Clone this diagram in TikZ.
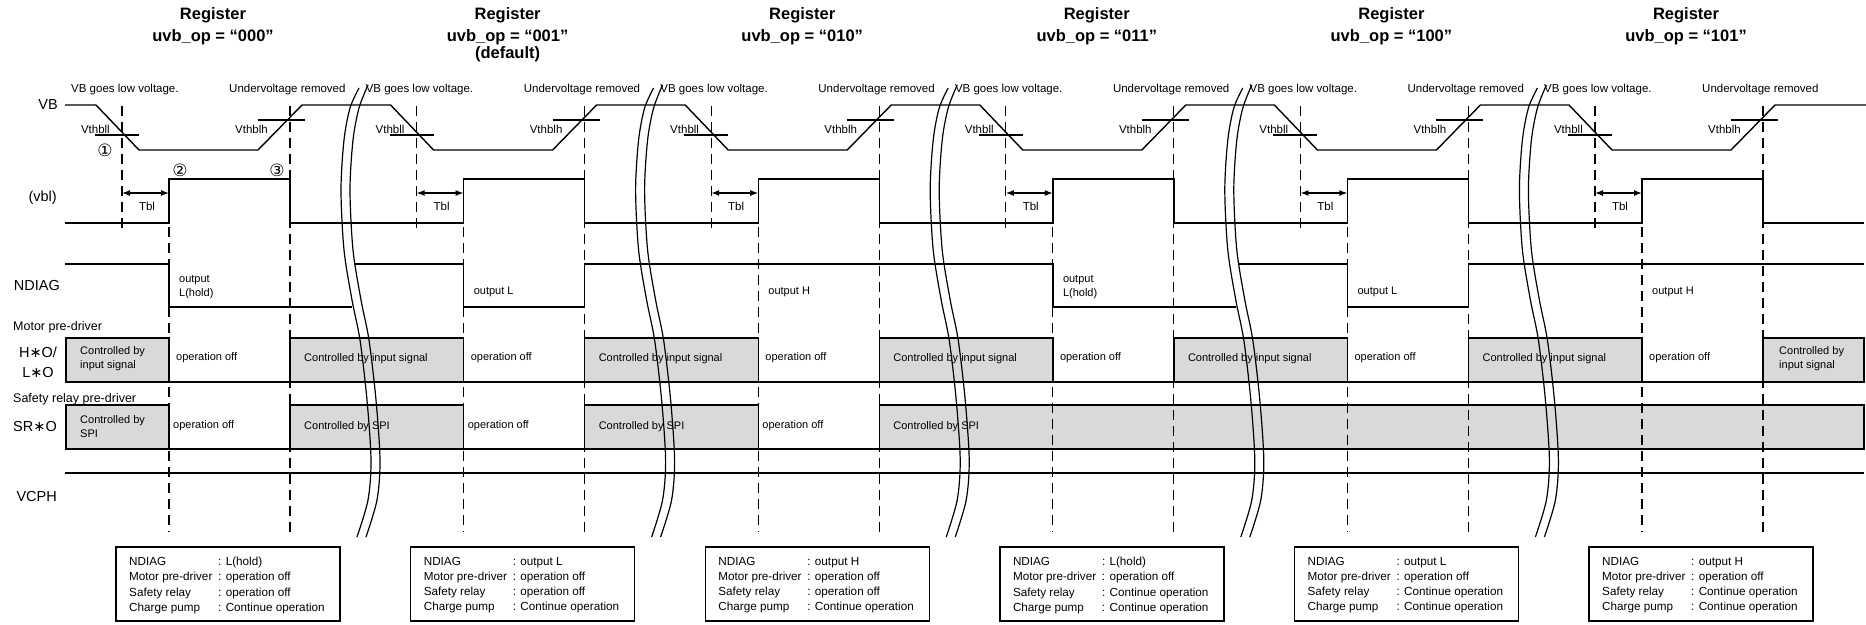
\documentclass[tikz,border=0pt]{standalone}
\usepackage{fontspec}
\setmainfont{Liberation Sans}
\newfontfamily\circfont{DejaVu Sans}
\usetikzlibrary{arrows.meta,positioning}

\tikzstyle{wave}  = [line width=1.4pt]
\tikzstyle{guide} = [line width=1.3pt, dash pattern=on 10pt off 6pt]
\tikzstyle{ctrl}  = [draw, line width=1.4pt, fill=black!15]
\tikzstyle{brk}   = [line width=1.2pt]
\tikzstyle{dim}   = [line width=1.3pt, {Latex[length=8pt,width=6pt]}-{Latex[length=8pt,width=6pt]}]
\newcommand{\pinstar}{{\circfont ∗}}

\begin{document}
\begin{tikzpicture}[x=1pt,y=-1pt,
  title/.style={font=\fontsize{16.5}{22}\selectfont\bfseries, align=center, inner sep=0pt},
  sig/.style={font=\fontsize{14.5}{20}\selectfont, inner sep=0pt, align=center},
  grp/.style={font=\fontsize{12.5}{15}\selectfont, inner sep=0pt, anchor=west},
  note/.style={font=\fontsize{11}{14}\selectfont, inner sep=0pt, anchor=west, align=left},
  thr/.style={font=\fontsize{11.5}{13}\selectfont, inner sep=0pt},
  num/.style={font=\circfont\fontsize{17}{17}\selectfont, inner sep=0pt},
  summary/.style={font=\fontsize{11.7}{15.2}\selectfont, inner sep=0pt, anchor=north west, align=left}
]
\useasboundingbox (0,0) rectangle (1866,624);

% row labels
\node[sig, anchor=east] (vb) at (58,105) {VB};
\node[sig, anchor=east] (vbl) at (57,198) {(vbl)};
\node[sig, anchor=east] (ndiag) at (60,286) {NDIAG};
\node[grp] (motor) at (13,327) {Motor pre-driver};
\node[sig] (hlo) at (38,362) {H\pinstar O/\\L\pinstar O};
\node[grp] (safety) at (13,399) {Safety relay pre-driver};
\node[sig, anchor=east] (sro) at (57,427) {SR\pinstar O};
\node[sig, anchor=east] (vcph) at (57,497) {VCPH};

% motor pre-driver row
\draw[ctrl] (66,338) rectangle (169,382);
\node[note] (hin0) at (80,359) {Controlled by\\input signal};
\foreach \k in {0,...,4}{
  \begin{scope}[xshift=\k*294.6pt]
    \draw[ctrl] (290,338) rectangle (463.6,382);
    \node[note] (hin\k) at (304,359) {Controlled by input signal};
  \end{scope}
}
\draw[ctrl] (1763,338) rectangle (1864,382);
\node[note] (hinend) at (1779,359) {Controlled by\\input signal};
\draw[wave] (66,382) -- (1864,382);

% safety relay row
\draw[ctrl] (66,405) rectangle (169,449);
\node[note] (spi0) at (80,427) {Controlled by\\SPI};
\draw[ctrl] (290,405) rectangle (463.6,449);
\node[note] (spi1) at (304,427) {Controlled by SPI};
\draw[ctrl] (584.6,405) rectangle (758.2,449);
\node[note] (spi2) at (598.6,427) {Controlled by SPI};
\draw[ctrl] (879.2,405) rectangle (1864,449);
\node[note] (spi3) at (893.2,427) {Controlled by SPI};
\draw[wave] (66,449) -- (1864,449);

% VCPH
\draw[wave] (65,473) -- (1864,473);

% VB
\draw[wave] (65,105) \foreach \k in {0,...,5}{
  -- ({96+\k*294.6},105) -- ({139+\k*294.6},150) -- ({258+\k*294.6},150) -- ({302+\k*294.6},105) } -- (1866,105);

% vbl
\draw[wave] (65,223) \foreach \k in {0,...,5}{
  -- ({169+\k*294.6},223) -- ({169+\k*294.6},179) -- ({290+\k*294.6},179) -- ({290+\k*294.6},223) } -- (1864,223);

% NDIAG
\draw[wave] (65,264) -- (169,264) -- (169,307) -- (352,307);
\draw[wave] (355,264) -- (463.6,264) -- (463.6,307) -- (584.6,307) -- (584.6,264)
  -- (1052.8,264) -- (1052.8,307) -- (1235.8,307);
\draw[wave] (1238.8,264) -- (1347.4,264) -- (1347.4,307) -- (1468.4,307) -- (1468.4,264) -- (1864,264);

% one block per register setting
\foreach \k/\reg/\ndtxt/\ndy/\ndval/\srval in {
    0/000/{output\\L(hold)}/287/L(hold)/operation off,
    1/001/{output L}/292/output L/operation off,
    2/010/{output H}/292/output H/operation off,
    3/011/{output\\L(hold)}/287/L(hold)/Continue operation,
    4/100/{output L}/292/output L/Continue operation,
    5/101/{output H}/292/output H/Continue operation}{
  \begin{scope}[xshift=\k*294.6pt]
    \node[title, anchor=north] (reg\k) at (213,7) {Register\\uvb\_op = “\reg”};
    \node[thr, anchor=west] (low\k) at (71,90) {VB goes low voltage.};
    \node[thr, anchor=west] (rem\k) at (229,90) {Undervoltage removed};
    \draw[wave] (95,135) -- (139,135);
    \draw[wave] (258,120) -- (305,120);
    \node[thr, anchor=east] (vthl\k) at (110,129) {Vthbll};
    \node[thr, anchor=east] (vthh\k) at (268,129) {Vthblh};
    \draw[dim] (122,193) -- (169,193);
    \node[thr] (tbl\k) at (147,206) {Tbl};
    \node[note] (nd\k) at (179,\ndy) {\ndtxt};
    \node[note] (off\k) at (176,358) {operation off};
    \draw[guide] (122,106) -- (122,229);
    \draw[guide] (169,179) -- (169,532);
    \draw[guide] (290,106) -- (290,532);
    \draw[wave] (116,547) rectangle (340,621);
    \node[summary] (sum\k) at (129,557) {%
      \makebox[89pt][l]{NDIAG}: \ndval\\
      \makebox[89pt][l]{Motor pre-driver}: operation off\\
      \makebox[89pt][l]{Safety relay}: \srval\\
      \makebox[89pt][l]{Charge pump}: Continue operation};
  \end{scope}
}
\node[title, below=2pt of reg1] (dflt) {(default)};

% safety relay switched off only for the first three settings
\foreach \k in {0,1,2}{
  \node[note] (sroff\k) at ({173+\k*294.6},426) {operation off};
}

% event numbers
\node[num] (ev1) at (105,150) {①};
\node[num] (ev2) at (180,170) {②};
\node[num] (ev3) at (277,170) {③};

% time breaks
\foreach \k in {0,...,4}{
  \begin{scope}[xshift=\k*294.6pt]
    \draw[brk] plot[smooth] coordinates {(359,88) (350,108) (344,140) (341,190) (344,250) (352,300)
      (360,340) (367,400) (371,460) (368,500) (357,537)};
    \draw[brk] plot[smooth] coordinates {(368,85) (359,108) (353,140) (350,190) (353,250) (361,300)
      (369,340) (376,400) (380,460) (377,500) (366,537)};
  \end{scope}
}
\end{tikzpicture}
\end{document}
